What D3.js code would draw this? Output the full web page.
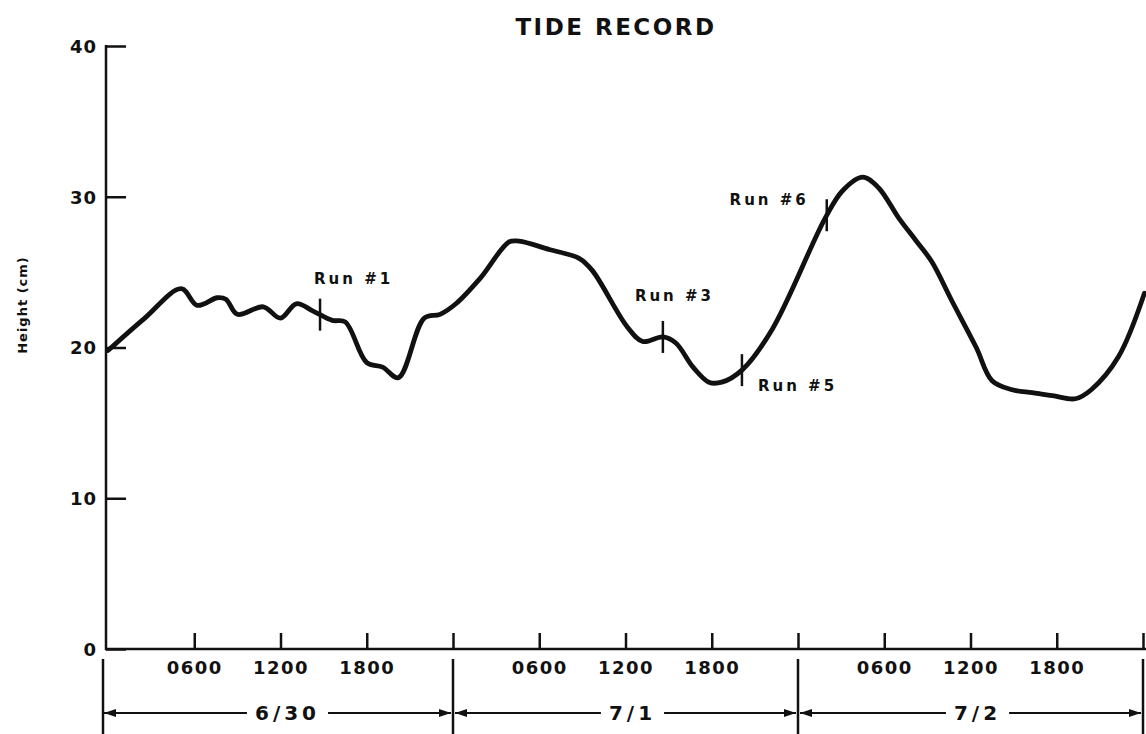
<!DOCTYPE html>
<html>
<head>
<meta charset="utf-8">
<script src="https://cdn.jsdelivr.net/npm/d3@7"></script>
<style>
  html, body { margin: 0; padding: 0; background: #fff; }
  svg { display: block; }
  text { font-family: "DejaVu Sans", sans-serif; font-weight: bold; fill: #111; }
</style>
</head>
<body>
<svg id="chart" width="1146" height="734"></svg>
<script>
// Tide gauge trace: hours since 0000 on 6/30, height in cm
const hours   = [0, 2.5, 5.1, 6.2, 7.6, 8.2, 9.0, 10.8, 12.0, 13.1, 14.3, 15.6, 16.5, 18.0, 19.1, 20.2,
                 22.0, 23.1, 24.2, 25.9, 27.9, 28.6, 30.7, 32.8, 33.7, 36.1, 37.2, 38.6, 39.5, 40.7,
                 41.8, 42.7, 44.1, 46.2, 49.9, 51.1, 52.5, 53.6, 55.0, 56.2, 57.3, 58.7, 60.4, 61.5,
                 62.9, 64.3, 65.7, 67.3, 68.4, 70.3, 72.1];
const heights = [19.8, 21.9, 23.9, 22.8, 23.3, 23.2, 22.2, 22.7, 21.95, 22.9, 22.4, 21.8, 21.7, 19.0, 18.7, 18.0,
                 21.95, 22.2, 22.9, 24.6, 27.0, 27.05, 26.5, 25.9, 25.1, 21.4, 20.4, 20.7, 20.3, 18.7,
                 17.7, 17.7, 18.5, 21.2, 28.6, 30.4, 31.3, 30.6, 28.6, 27.1, 25.7, 23.1, 20.0, 17.8,
                 17.2, 17.0, 16.8, 16.6, 17.2, 19.4, 23.6];

// Test runs marked on the trace
const runLabels = ["Run #1", "Run #3", "Run #5", "Run #6"];
const runHours  = [14.75, 38.6, 44.1, 50.0];

// Axis ticks
const heightTicks = [0, 10, 20, 30, 40];
const hourTicks   = [6, 12, 18, 24, 30, 36, 42, 48, 54, 60, 66, 72];
const clockLabels = ["0600", "1200", "1800"];
const dayLabels   = ["6/30", "7/1", "7/2"];

// Label placement relative to each run marker: [dx, dy, anchor]
const runLabelPlacement = [[-6, -31, "start"], [-28, -36, "start"], [16, 21, "start"], [-18, -10, "end"]];

const svg = d3.select("#chart");

const x = d3.scaleLinear().domain([0, 72]).range([108, 1143]);
const y = d3.scaleLinear().domain([0, 40]).range([649, 46]);
const axisX = 106;

// Title
svg.append("text")
  .attr("x", 616).attr("y", 35)
  .attr("text-anchor", "middle")
  .style("font-size", "23px").style("letter-spacing", "2.5px")
  .text("TIDE RECORD");

// Y axis
const yAxis = d3.axisLeft(y).tickValues(heightTicks).tickSizeInner(-20).tickSizeOuter(0).tickPadding(9);
const gy = svg.append("g").attr("transform", `translate(${axisX},0)`).call(yAxis);
gy.select(".domain").remove();
gy.selectAll(".tick line").attr("stroke", "#111").attr("stroke-width", 2.5);
gy.selectAll(".tick text").style("font-size", "18px").style("font-family", "DejaVu Sans, sans-serif")
  .style("font-weight", "bold").style("letter-spacing", "1px").attr("fill", "#111").attr("dy", "0.36em");
svg.append("line")
  .attr("x1", axisX).attr("x2", axisX).attr("y1", y(40) - 1).attr("y2", y(0) + 1)
  .attr("stroke", "#111").attr("stroke-width", 2.5);

svg.append("text")
  .attr("transform", `translate(27,${305}) rotate(-90)`)
  .attr("text-anchor", "middle")
  .style("font-size", "13px").style("letter-spacing", "1px")
  .text("Height (cm)");

// X axis: ticks point up, clock labels below
const xAxis = d3.axisBottom(x).tickValues(hourTicks).tickSizeInner(-16).tickSizeOuter(0).tickPadding(10)
  .tickFormat(h => (h % 24 === 0) ? "" : clockLabels[(h % 24) / 6 - 1]);
const gx = svg.append("g").attr("transform", `translate(0,${y(0)})`).call(xAxis);
gx.select(".domain").remove();
gx.selectAll(".tick line").attr("stroke", "#111").attr("stroke-width", 2.5);
gx.selectAll(".tick text").style("font-size", "18px").style("font-family", "DejaVu Sans, sans-serif")
  .style("font-weight", "bold").style("letter-spacing", "1.5px").attr("fill", "#111").attr("y", 12).attr("dy", "0.71em");
svg.append("line")
  .attr("x1", axisX - 1).attr("x2", 1146).attr("y1", y(0)).attr("y2", y(0))
  .attr("stroke", "#111").attr("stroke-width", 2.5);

// Day brackets under the axis
const bracketY = 713;
const boundaries = [0, 24, 48, 72];
svg.append("g").selectAll("line").data(boundaries).join("line")
  .attr("x1", (d, i) => i === 0 ? 103 : x(d)).attr("x2", (d, i) => i === 0 ? 103 : x(d))
  .attr("y1", 659).attr("y2", 734)
  .attr("stroke", "#111").attr("stroke-width", 2.5);

function arrowHead(g, tipX, dir) {
  // dir = -1 points left, +1 points right
  g.append("path")
    .attr("d", `M${tipX},${bracketY} L${tipX - dir * 12},${bracketY - 4} L${tipX - dir * 12},${bracketY + 4} Z`)
    .attr("fill", "#111");
}

const days = svg.append("g");
dayLabels.forEach((lab, i) => {
  const x0 = i === 0 ? 104 : x(i * 24) + 2;
  const x1 = x((i + 1) * 24) - 2;
  const cx = (x(i * 24) + x((i + 1) * 24)) / 2 + 7;
  const t = days.append("text")
    .attr("x", cx).attr("y", bracketY).attr("dy", "0.36em")
    .attr("text-anchor", "middle")
    .style("font-size", "20px").style("letter-spacing", "4px")
    .text(lab);
  const w = t.node().getComputedTextLength();
  const gap = 8;
  days.append("line").attr("x1", x0).attr("x2", cx - w / 2 - gap)
    .attr("y1", bracketY).attr("y2", bracketY).attr("stroke", "#111").attr("stroke-width", 2);
  days.append("line").attr("x1", cx + w / 2 + gap).attr("x2", x1)
    .attr("y1", bracketY).attr("y2", bracketY).attr("stroke", "#111").attr("stroke-width", 2);
  arrowHead(days, x0, -1);
  arrowHead(days, x1, 1);
});

// Tide trace
const tide = hours.map((h, i) => [h, heights[i]]);
const line = d3.line().x(d => x(d[0])).y(d => y(d[1])).curve(d3.curveCatmullRom.alpha(0.5));
const path = svg.append("path")
  .datum(tide)
  .attr("d", line)
  .attr("fill", "none")
  .attr("stroke", "#111")
  .attr("stroke-width", 4.8)
  .attr("stroke-linejoin", "round")
  .attr("stroke-linecap", "round");

// Locate the trace's y at a given screen x
const node = path.node();
const total = node.getTotalLength();
function pointAtX(px) {
  let lo = 0, hi = total;
  for (let k = 0; k < 40; k++) {
    const mid = (lo + hi) / 2;
    if (node.getPointAtLength(mid).x < px) lo = mid; else hi = mid;
  }
  return node.getPointAtLength((lo + hi) / 2);
}

// Run markers and labels
runHours.forEach((h, i) => {
  const p = pointAtX(x(h));
  svg.append("line")
    .attr("x1", p.x).attr("x2", p.x).attr("y1", p.y - 16).attr("y2", p.y + 16)
    .attr("stroke", "#111").attr("stroke-width", 2.5);
  const [dx, dy, anchor] = runLabelPlacement[i];
  svg.append("text")
    .attr("x", p.x + dx).attr("y", p.y + dy)
    .attr("text-anchor", anchor)
    .style("font-size", "15px").style("letter-spacing", "3px")
    .text(runLabels[i]);
});
</script>
</body>
</html>
